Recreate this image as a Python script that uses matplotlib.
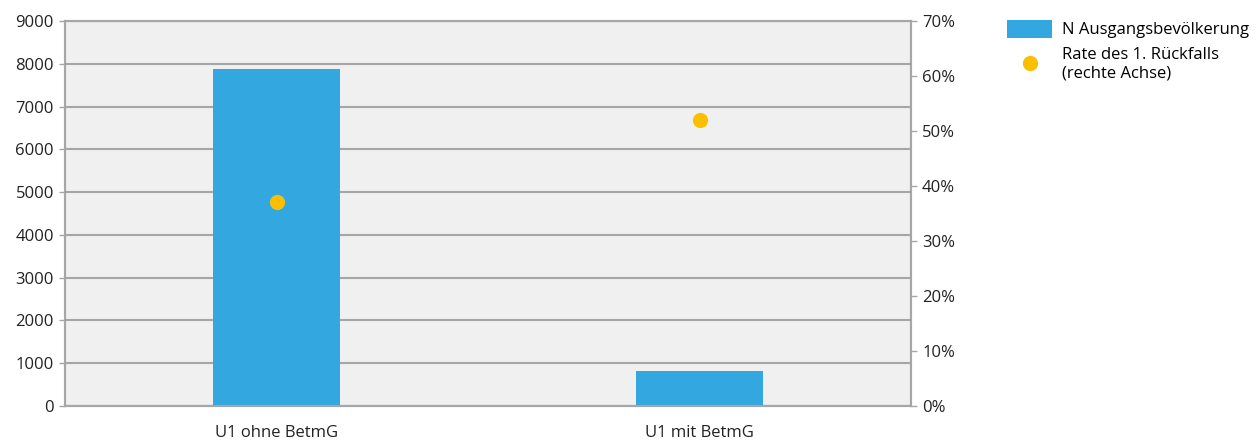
import matplotlib.pyplot as plt
from matplotlib.patches import Patch
from matplotlib.lines import Line2D
from matplotlib.ticker import FuncFormatter

# data
categories = ["U1 ohne BetmG", "U1 mit BetmG"]
n_population = [7880, 820]
relapse_rate = [37.1, 52.0]  # percent, right axis

bar_color = "#33a8e0"
dot_color = "#fcbf00"
grid_color = "#a6a6a6"

plt.rcParams["font.family"] = ["Open Sans", "DejaVu Sans"]
plt.rcParams["font.size"] = 12

fig = plt.figure(figsize=(12.6, 4.41), dpi=100)
ax = fig.add_axes([65 / 1260, 35 / 441, 846 / 1260, 385 / 441])
ax.set_facecolor("#f0f0f0")

x = range(len(categories))
ax.bar(x, n_population, width=0.3, color=bar_color, zorder=2)
ax.set_xlim(-0.5, 1.5)
ax.set_ylim(0, 9000)
ax.set_yticks(range(0, 9001, 1000))
ax.set_xticks(list(x))
ax.set_xticklabels(categories)
ax.yaxis.grid(True, color=grid_color, linewidth=1.5, zorder=1)
ax.set_axisbelow(True)
ax.tick_params(axis="x", length=0, pad=14, colors="#222222")
ax.tick_params(axis="y", length=4, width=1, color=grid_color, pad=4, labelcolor="#222222")
for s in ax.spines.values():
    s.set_color(grid_color)
    s.set_linewidth(1.5)

ax2 = ax.twinx()
ax2.scatter(x, relapse_rate, s=120, color=dot_color, zorder=3, linewidths=0)
ax2.set_ylim(0, 70)
ax2.set_yticks(range(0, 71, 10))
ax2.yaxis.set_major_formatter(FuncFormatter(lambda v, p: f"{v:.0f}%"))
ax2.tick_params(axis="y", length=4, width=1, color=grid_color, pad=4, labelcolor="#222222")
for s in ax2.spines.values():
    s.set_color(grid_color)
    s.set_linewidth(1.5)

handles = [
    Patch(facecolor=bar_color, edgecolor="none"),
    Line2D([], [], marker="o", linestyle="none", markersize=11,
           markerfacecolor=dot_color, markeredgecolor="none"),
]
labels = ["N Ausgangsbevölkerung", "Rate des 1. Rückfalls\n(rechte Achse)"]
fig.legend(handles, labels, loc="upper left", bbox_to_anchor=(1007 / 1260, 1 - 20 / 441),
           frameon=False, handlelength=2.7, handleheight=1.26, handletextpad=0.6,
           labelspacing=0.5, borderpad=0, borderaxespad=0)

plt.savefig("out.png", dpi=100)
plt.close()
